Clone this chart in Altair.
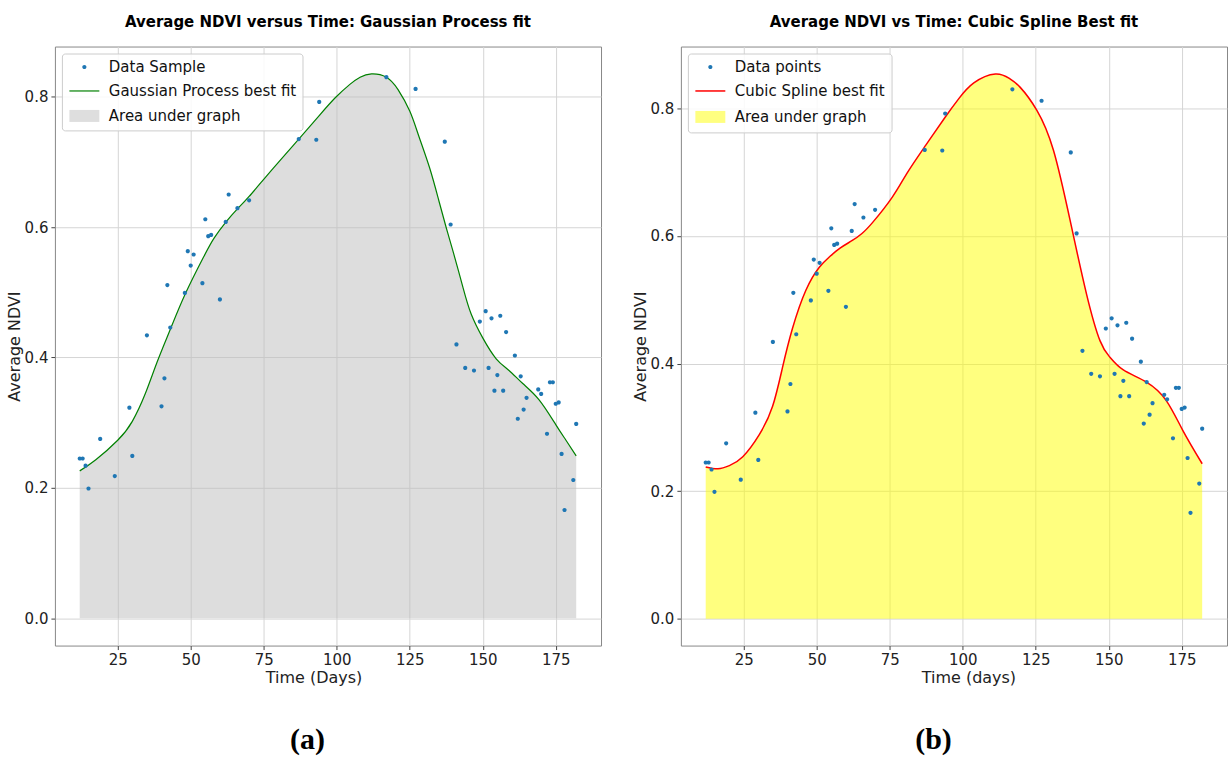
import altair as alt
import pandas as pd

# ---- data ----
days = [12, 13, 14, 15, 19, 24, 29, 30, 35, 40, 41, 42, 43, 48, 49, 50, 51, 54, 55, 56,
        57, 60, 62, 63, 66, 70, 87, 93, 94, 117, 127, 137, 139, 141, 144, 147, 149, 151, 152, 153,
        154, 155, 156, 157, 158, 161, 162, 163, 164, 165, 169, 170, 172, 173, 174, 175, 176, 177, 178, 181,
        182]
ndvi = [0.245, 0.245, 0.234, 0.199, 0.275, 0.218, 0.323, 0.249, 0.434, 0.325, 0.368, 0.511, 0.446, 0.499,
        0.563, 0.541, 0.558, 0.514, 0.612, 0.586, 0.588, 0.489, 0.608, 0.650, 0.629, 0.641, 0.735, 0.734,
        0.792, 0.830, 0.812, 0.731, 0.604, 0.420, 0.384, 0.380, 0.455, 0.471, 0.384, 0.460, 0.349, 0.373,
        0.464, 0.349, 0.439, 0.403, 0.306, 0.371, 0.320, 0.338, 0.351, 0.344, 0.283, 0.362, 0.362, 0.329,
        0.331, 0.252, 0.166, 0.212, 0.298]

gp_days = [12, 17.5, 25, 30, 34.5, 38.5, 43.1, 48.2, 54.4, 58, 62.1, 66, 70, 78, 87, 94, 99.4, 104.5, 108,
           111.9, 117, 121, 125, 128, 131.8, 135, 137.5, 140, 143.2, 146, 150, 154.6, 159, 163.7, 169.3,
           175, 178.5, 182]
gp_ndvi = [0.226, 0.243, 0.273, 0.302, 0.345, 0.393, 0.444, 0.498, 0.554, 0.583, 0.608, 0.628,
           0.647, 0.689, 0.735, 0.771, 0.798, 0.819, 0.830, 0.835, 0.830, 0.811, 0.778, 0.741, 0.691,
           0.640, 0.599, 0.560, 0.508, 0.467, 0.430, 0.398, 0.380, 0.360, 0.335, 0.297, 0.273, 0.249]

cs_days = [12, 16.2, 20.1, 24.7, 30.4, 34.9, 38.3, 41.7, 46.3, 50.9, 54.3, 58, 62.2, 65.5, 69.1, 75.9,
           81, 87.3, 94.1, 98.6, 103.8, 111.2, 116, 119.7, 125.4, 131.1, 136.8, 142.4, 147, 150.4, 155,
           162.9, 169.7, 175.4, 182]
cs_ndvi = [0.238, 0.235, 0.240, 0.254, 0.289, 0.333, 0.394, 0.455, 0.515, 0.551, 0.567, 0.581, 0.593,
           0.604, 0.621, 0.661, 0.699, 0.742, 0.787, 0.815, 0.840, 0.854, 0.847, 0.833, 0.797, 0.734,
           0.624, 0.509, 0.436, 0.410, 0.390, 0.371, 0.342, 0.295, 0.243]

x_ticks = [25, 50, 75, 100, 125, 150, 175]
y_ticks = [0.0, 0.2, 0.4, 0.6, 0.8]

labels_a = ["Data Sample", "Gaussian Process best fit", "Area under graph"]
labels_b = ["Data points", "Cubic Spline best fit", "Area under graph"]

FONT = "DejaVu Sans"
W, H = 547, 600
BLUE = "#1f77b4"

CIRCLE = "M0.35,0A0.35,0.35,0,1,1,-0.35,0A0.35,0.35,0,1,1,0.35,0Z"
LINE = "M-2.5,0H2.5"
RECT = "M-2.5,-1H2.5V1H-2.5Z"


def panel(title, labels, cdays, cvals, line_color, line_width, fill_color, fill_opacity,
          legend_fill, xtitle, title_x, ydom, caption):
    pts = pd.DataFrame({"day": days, "ndvi": ndvi, "series": labels[0]})
    crv = pd.DataFrame({"day": cdays, "ndvi": cvals})
    x = alt.X("day:Q", scale=alt.Scale(domain=[3.5, 190.5], nice=False, zero=False),
              axis=alt.Axis(values=x_ticks, title=xtitle, titleX=title_x))
    y = alt.Y("ndvi:Q", scale=alt.Scale(domain=ydom, nice=False, zero=False),
              axis=alt.Axis(values=y_ticks, format=".1f", title="Average NDVI"))
    area = alt.Chart(crv).mark_area(color=fill_color, opacity=fill_opacity,
                                    interpolate="natural").encode(x=x, y=y)
    line = alt.Chart(crv).mark_line(color=line_color, strokeWidth=line_width,
                                    interpolate="natural").encode(x=x, y=y)
    legend = alt.Legend(title=None, orient="top-left", offset=7, padding=6,
                        fillColor="rgba(255,255,255,0.85)", strokeColor="#cccccc",
                        cornerRadius=3, labelFont=FONT, labelFontSize=15, labelColor="#111",
                        labelLimit=400,
                        symbolSize=144, symbolOffset=9, labelOffset=17, rowPadding=8,
                        symbolStrokeWidth=line_width, symbolOpacity=1)
    points = alt.Chart(pts).mark_point(filled=True, size=144, opacity=1).encode(
        x=x, y=y,
        color=alt.Color("series:N", scale=alt.Scale(domain=labels, range=[BLUE, line_color, legend_fill]),
                        legend=legend),
        shape=alt.Shape("series:N", scale=alt.Scale(domain=labels, range=[CIRCLE, LINE, RECT]),
                        legend=legend),
        stroke=alt.Stroke("series:N", scale=alt.Scale(domain=labels,
                                                      range=["transparent", line_color, "transparent"]),
                          legend=legend),
    )
    cap = alt.Chart(pd.DataFrame({"t": [caption]})).mark_text(
        font="Liberation Serif", fontSize=30, fontWeight="bold", color="black",
        align="center", baseline="middle").encode(x=alt.value(253), y=alt.value(695), text="t:N")
    return alt.layer(area, line, points, cap).properties(
        width=W, height=H,
        title=alt.TitleParams(title, font=FONT, fontSize=15, fontWeight="bold", anchor="middle",
                              offset=17, color="black"))


left = panel("Average NDVI versus Time: Gaussian Process fit", labels_a, gp_days, gp_ndvi,
             "green", 1.2, "#bcbcbc", 0.5, "#dedede", "Time (Days)", 259, [-0.042, 0.877], "(a)")
right = panel("Average NDVI vs Time: Cubic Spline Best fit", labels_b, cs_days, cs_ndvi,
              "red", 1.5, "yellow", 0.5, "#ffff80", "Time (days)", 288, [-0.042, 0.897], "(b)")

chart = alt.hconcat(left, right, spacing=29).resolve_scale(
    x="independent", y="independent", color="independent", shape="independent", stroke="independent"
).configure(
    padding={"left": 5, "top": 13, "right": 0, "bottom": 0}, font=FONT
).configure_view(
    stroke="#888888", strokeWidth=1
).configure_axis(
    grid=True, gridColor="#d5d5d5", gridWidth=1, domain=False, tickColor="#444444", tickSize=4,
    labelFont=FONT, labelFontSize=15, labelColor="#222222", labelPadding=3,
    titleFont=FONT, titleFontSize=16, titleFontWeight="normal", titleColor="#222222", titlePadding=2
)

chart.save("out.html", embed_options={"renderer": "svg", "actions": False})
